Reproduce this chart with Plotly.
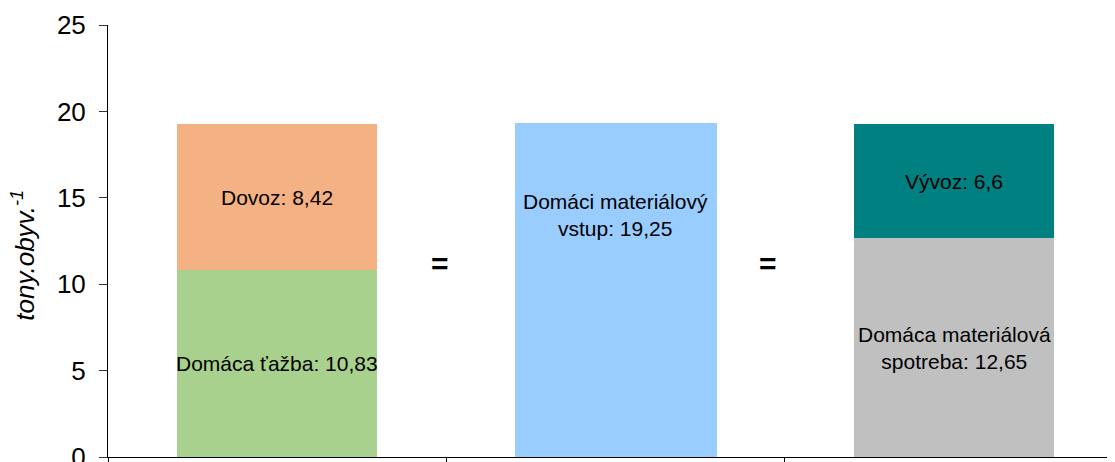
import plotly.graph_objects as go

# Data
positions = [0, 1, 2]
tazba = 10.83          # Domáca ťažba
dovoz = 8.42           # Dovoz
vstup = 19.25          # Domáci materiálový vstup
spotreba = 12.65       # Domáca materiálová spotreba
vyvoz = 6.6            # Vývoz
y_ticks = [0, 5, 10, 15, 20, 25]

FONT = "Liberation Sans, Arial, sans-serif"
W = 0.59

fig = go.Figure()
fig.add_bar(x=[positions[0]], y=[tazba], width=W, marker=dict(color="#A9D18E", line_width=0), name="Domáca ťažba")
fig.add_bar(x=[positions[0]], y=[dovoz], width=W, marker=dict(color="#F4B183", line_width=0), name="Dovoz")
fig.add_bar(x=[positions[1]], y=[vstup], width=W, marker=dict(color="#99CCFF", line=dict(color="#99CCFF", width=2)), name="Domáci materiálový vstup")
fig.add_bar(x=[positions[2]], y=[spotreba], width=W, marker=dict(color="#C0C0C0", line_width=0), name="Domáca materiálová spotreba")
fig.add_bar(x=[positions[2]], y=[vyvoz], width=W, marker=dict(color="#008080", line_width=0), name="Vývoz")

def fmt(v):
    return f"{v:g}".replace(".", ",")

ann_font = dict(family=FONT, size=21, color="#000000")
annotations = [
    dict(x=positions[0], y=tazba / 2, text=f"Domáca ťažba: {fmt(tazba)}"),
    dict(x=positions[0], y=tazba + dovoz / 2, text=f"Dovoz: {fmt(dovoz)}"),
    dict(x=positions[1], y=14.0, text=f"Domáci materiálový<br>vstup: {fmt(vstup)}"),
    dict(x=positions[2], y=spotreba / 2, text=f"Domáca materiálová<br>spotreba: {fmt(spotreba)}"),
    dict(x=positions[2], y=spotreba + vyvoz / 2, text=f"Vývoz: {fmt(vyvoz)}"),
]
for a in annotations:
    a.update(xref="x", yref="y", showarrow=False, font=ann_font, xanchor="center", yanchor="middle")

eq_font = dict(family=FONT, size=30, color="#000000")
for xe in [0.48, 1.45]:
    annotations.append(dict(x=xe, y=11.2, xref="x", yref="y", text="<b>=</b>", showarrow=False,
                            font=eq_font, xanchor="center", yanchor="middle"))

annotations.append(dict(x=-0.0835, y=0.468, xref="paper", yref="paper",
                        text="<i>tony.obyv.<sup>-1</sup></i>", textangle=-90, showarrow=False,
                        font=dict(family=FONT, size=26, color="#000000"),
                        xanchor="center", yanchor="middle"))

fig.update_layout(
    barmode="stack",
    width=1107, height=462,
    margin=dict(l=100, r=0, t=17, b=13, autoexpand=False),
    paper_bgcolor="white", plot_bgcolor="white",
    showlegend=False,
    annotations=annotations,
    font=dict(family=FONT, color="#000000"),
)
fig.update_xaxes(range=[-0.5, 2.475], showgrid=False, zeroline=False, automargin=False,
                 showline=True, linecolor="#000000", linewidth=1,
                 tickmode="array", tickvals=[-0.5, 0.5, 1.5], ticktext=["", "", ""],
                 ticks="outside", ticklen=8, tickcolor="#000000", showticklabels=False)
fig.update_yaxes(range=[0, 25], showgrid=False, zeroline=False, automargin=False,
                 showline=True, linecolor="#000000", linewidth=1,
                 tickmode="array", tickvals=y_ticks, ticktext=[str(t) for t in y_ticks],
                 ticks="outside", ticklen=8, tickcolor="#333333",
                 tickfont=dict(family=FONT, size=26, color="#000000"),
                 ticklabelstandoff=8, ticklabeloverflow="allow")

fig.write_html("out.html")
